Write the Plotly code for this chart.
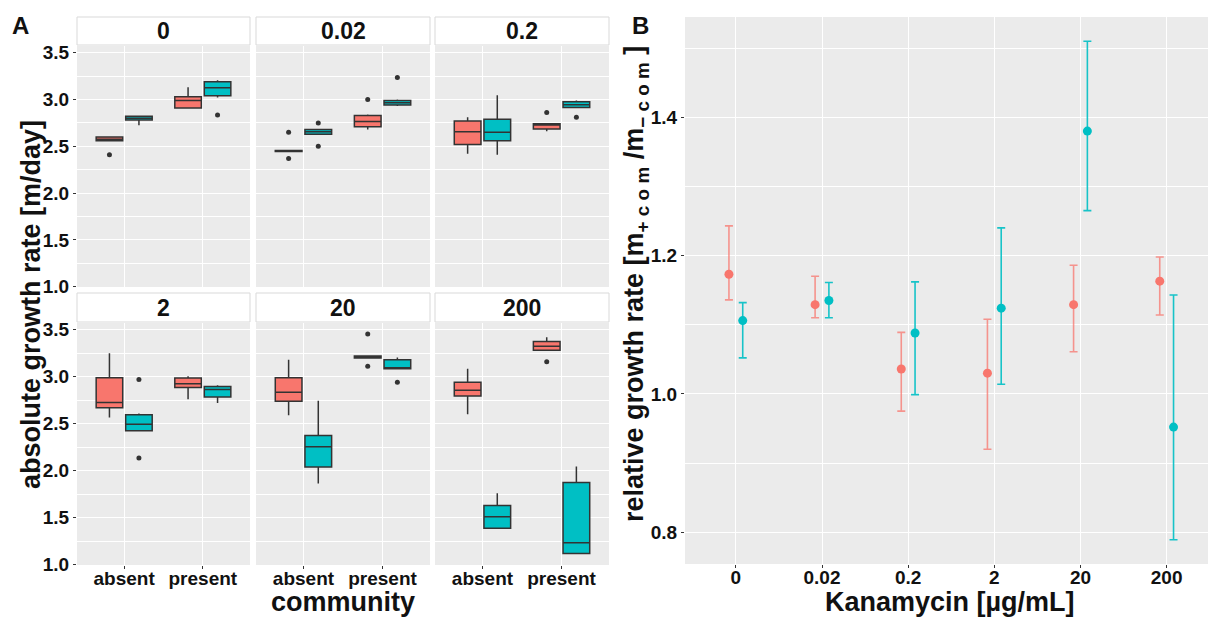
import plotly.graph_objects as go
import numpy as np

# ---------------- data ----------------
facets = ["0", "0.02", "0.2", "2", "20", "200"]
community = ["absent", "present"]

# Panel A box statistics, per facet: [absent, present]
red_q1 = [[2.56, 2.91], [2.445, 2.71], [2.52, 2.686], [2.67, 2.885], [2.74, 3.20], [2.795, 3.28]]
red_med = [[2.575, 2.99], [2.45, 2.765], [2.655, 2.728], [2.725, 2.925], [2.835, 3.21], [2.855, 3.325]]
red_q3 = [[2.60, 3.03], [2.455, 2.83], [2.77, 2.742], [2.99, 2.985], [2.99, 3.22], [2.94, 3.375]]
red_lo = [[2.555, 2.90], [2.445, 2.68], [2.42, 2.66], [2.565, 2.76], [2.59, 3.20], [2.60, 3.28]]
red_hi = [[2.605, 3.13], [2.455, 2.84], [2.81, 2.745], [3.25, 3.005], [3.18, 3.22], [3.085, 3.42]]
red_out = [[[2.41], [None]], [[2.65, 2.37], [3.0]], [[None], [2.86]], [[None], [None]],
           [[None], [3.455, 3.11]], [[None], [3.16]]]

teal_q1 = [[2.78, 3.04], [2.63, 2.94], [2.56, 2.915], [2.425, 2.785], [2.04, 3.085], [1.39, 1.12]]
teal_med = [[2.80, 3.125], [2.655, 2.965], [2.65, 2.945], [2.495, 2.865], [2.255, 3.095], [1.51, 1.235]]
teal_q3 = [[2.82, 3.19], [2.68, 2.99], [2.79, 2.975], [2.595, 2.895], [2.375, 3.18], [1.63, 1.875]]
teal_lo = [[2.725, 3.02], [2.63, 2.93], [2.41, 2.915], [2.425, 2.72], [1.865, 3.085], [1.39, 1.12]]
teal_hi = [[2.83, 3.205], [2.68, 3.0], [3.045, 2.99], [2.61, 2.91], [2.745, 3.205], [1.76, 2.045]]
teal_out = [[[None], [2.835]], [[2.75, 2.50], [3.235]], [[None], [2.81]], [[2.97, 2.135], [None]],
            [[None], [2.94]], [[None], [None]]]

# Panel B relative growth rate
kanamycin = ["0", "0.02", "0.2", "2", "20", "200"]
red_mean = [1.173, 1.129, 1.036, 1.030, 1.129, 1.163]
red_low = [1.136, 1.110, 0.975, 0.920, 1.061, 1.114]
red_high = [1.243, 1.170, 1.089, 1.108, 1.186, 1.198]
teal_mean = [1.106, 1.135, 1.088, 1.124, 1.380, 0.952]
teal_low = [1.052, 1.110, 0.999, 1.014, 1.265, 0.789]
teal_high = [1.132, 1.161, 1.162, 1.240, 1.510, 1.143]

# ---------------- style ----------------
W, H = 1208, 617
RED = "#F8766D"
TEAL = "#00BFC4"
FONT = "Liberation Sans"
TXT = "#111111"

def px(x):
    return x / W

def py(y):
    return 1 - y / H

col_px = [(77, 250), (256, 430), (435, 609)]
row_px = [(46, 287), (323, 565)]
strip_px = [(17, 45), (293, 322)]

fig = go.Figure()
layout = dict(
    width=W, height=H,
    margin=dict(l=0, r=0, t=0, b=0, autoexpand=False),
    paper_bgcolor="white",
    plot_bgcolor="#EBEBEB",
    showlegend=False,
    boxmode="group", boxgap=0.25, boxgroupgap=0.1,
    scattermode="group", scattergap=0.68,
    font=dict(family=FONT, color=TXT),
)
shapes = []
annotations = []

for i, fac in enumerate(facets):
    r, c = divmod(i, 3)
    n = i + 1
    xa = "x" if n == 1 else f"x{n}"
    ya = "y" if n == 1 else f"y{n}"
    for color, q1, med, q3, lo, hi, out in [
        (RED, red_q1, red_med, red_q3, red_lo, red_hi, red_out),
        (TEAL, teal_q1, teal_med, teal_q3, teal_lo, teal_hi, teal_out),
    ]:
        fig.add_trace(go.Box(
            x=community, q1=q1[i], median=med[i], q3=q3[i],
            lowerfence=lo[i], upperfence=hi[i], y=out[i],
            boxpoints="outliers", pointpos=0, jitter=0,
            whiskerwidth=0,
            fillcolor=color,
            line=dict(color="#333333", width=1.5),
            marker=dict(color="#333333", size=5),
            offsetgroup=color,
            xaxis=xa, yaxis=ya, hoverinfo="skip",
        ))
    bottom = r == 1
    left = c == 0
    layout[f"xaxis{n}"] = dict(
        domain=[px(col_px[c][0]), px(col_px[c][1])],
        anchor=ya, type="category", categoryorder="array", categoryarray=community,
        range=[-0.6, 1.6], showgrid=True, gridcolor="white", gridwidth=1.4,
        zeroline=False, showline=False,
        showticklabels=bottom, ticks="outside" if bottom else "",
        ticklen=3, tickcolor="#333333", ticklabelstandoff=-7,
        tickfont=dict(family=FONT, size=19, color=TXT, weight="bold"),
    )
    layout[f"yaxis{n}"] = dict(
        domain=[py(row_px[r][1]), py(row_px[r][0])],
        anchor=xa, range=[0.998, 3.571],
        tick0=1.0, dtick=0.5, tickformat=".1f",
        showgrid=True, gridcolor="white", gridwidth=1.4,
        minor=dict(tick0=1.0, dtick=0.25, showgrid=True, gridcolor="white", gridwidth=0.6),
        zeroline=False, showline=False,
        showticklabels=left, ticks="outside" if left else "",
        ticklen=3, tickcolor="#333333",
        tickfont=dict(family=FONT, size=19, color=TXT, weight="bold"),
    )
    # strip
    h = row_px[r][1] - row_px[r][0]
    s0 = (row_px[r][0] - strip_px[r][1]) / h
    s1 = (row_px[r][0] - strip_px[r][0]) / h
    shapes.append(dict(
        type="rect", xref=f"{xa} domain", yref=f"{ya} domain",
        x0=0, x1=1, y0=1 + s0, y1=1 + s1,
        fillcolor="white", line=dict(color="#d9d9d9", width=1), layer="above",
    ))
    annotations.append(dict(
        xref=f"{xa} domain", yref=f"{ya} domain", x=0.5, y=1 + (s0 + s1) / 2,
        text=fac, showarrow=False, xanchor="center", yanchor="middle",
        font=dict(family=FONT, size=23, color=TXT, weight="bold"),
    ))

# Panel B
for color, ecolor, mean, low, high in [
    (RED, "rgba(248,118,109,0.75)", red_mean, red_low, red_high),
    (TEAL, "rgba(0,191,196,0.9)", teal_mean, teal_low, teal_high),
]:
    mean_a = np.array(mean)
    fig.add_trace(go.Scatter(
        x=kanamycin, y=mean, mode="markers",
        marker=dict(color=color, size=9),
        error_y=dict(type="data", symmetric=False,
                     array=list(np.array(high) - mean_a),
                     arrayminus=list(mean_a - np.array(low)),
                     color=ecolor, thickness=1.6, width=4),
        xaxis="x7", yaxis="y7", hoverinfo="skip",
    ))

layout["xaxis7"] = dict(
    domain=[px(685), 1.0], anchor="y7", type="category",
    categoryorder="array", categoryarray=kanamycin, range=[-0.59, 5.48],
    showgrid=True, gridcolor="white", gridwidth=1.4, zeroline=False,
    ticks="outside", ticklen=3, tickcolor="#333333", ticklabelstandoff=-7,
    tickfont=dict(family=FONT, size=19, color=TXT, weight="bold"),
)
layout["yaxis7"] = dict(
    domain=[py(564), py(17)], anchor="x7", range=[0.754, 1.545],
    tick0=0.8, dtick=0.2, tickformat=".1f",
    showgrid=True, gridcolor="white", gridwidth=1.4,
    minor=dict(tick0=0.8, dtick=0.1, showgrid=True, gridcolor="white", gridwidth=0.6),
    zeroline=False, ticks="outside", ticklen=3, tickcolor="#333333",
    tickfont=dict(family=FONT, size=19, color=TXT, weight="bold"),
)

title_font = dict(family=FONT, size=27, color=TXT, weight="bold")
annotations += [
    dict(xref="paper", yref="paper", x=px(20), y=py(25), text="A", showarrow=False,
         xanchor="center", yanchor="middle", font=dict(family=FONT, size=24, color=TXT, weight="bold")),
    dict(xref="paper", yref="paper", x=px(640), y=py(25), text="B", showarrow=False,
         xanchor="center", yanchor="middle", font=dict(family=FONT, size=24, color=TXT, weight="bold")),
    dict(xref="paper", yref="paper", x=px(31), y=py(305), text="absolute growth rate [m/day]",
         textangle=-90, showarrow=False, xanchor="center", yanchor="middle", font=title_font),
    dict(xref="paper", yref="paper", x=px(343), y=py(602), text="community",
         showarrow=False, xanchor="center", yanchor="middle", font=title_font),
    dict(xref="paper", yref="paper", x=px(950), y=py(602), text="Kanamycin [µg/mL]",
         showarrow=False, xanchor="center", yanchor="middle", font=title_font),
    dict(xref="paper", yref="paper", x=px(636), y=py(284),
         text="relative growth rate [m<sub>+ c o m</sub> /m<sub>− c o m</sub> ]",
         textangle=-90, showarrow=False, xanchor="center", yanchor="middle", font=title_font),
]
layout["shapes"] = shapes
layout["annotations"] = annotations
fig.update_layout(**layout)
fig.write_html("out.html", config={"displayModeBar": False},
               post_script="document.body.style.margin='0';document.body.style.padding='0';")
